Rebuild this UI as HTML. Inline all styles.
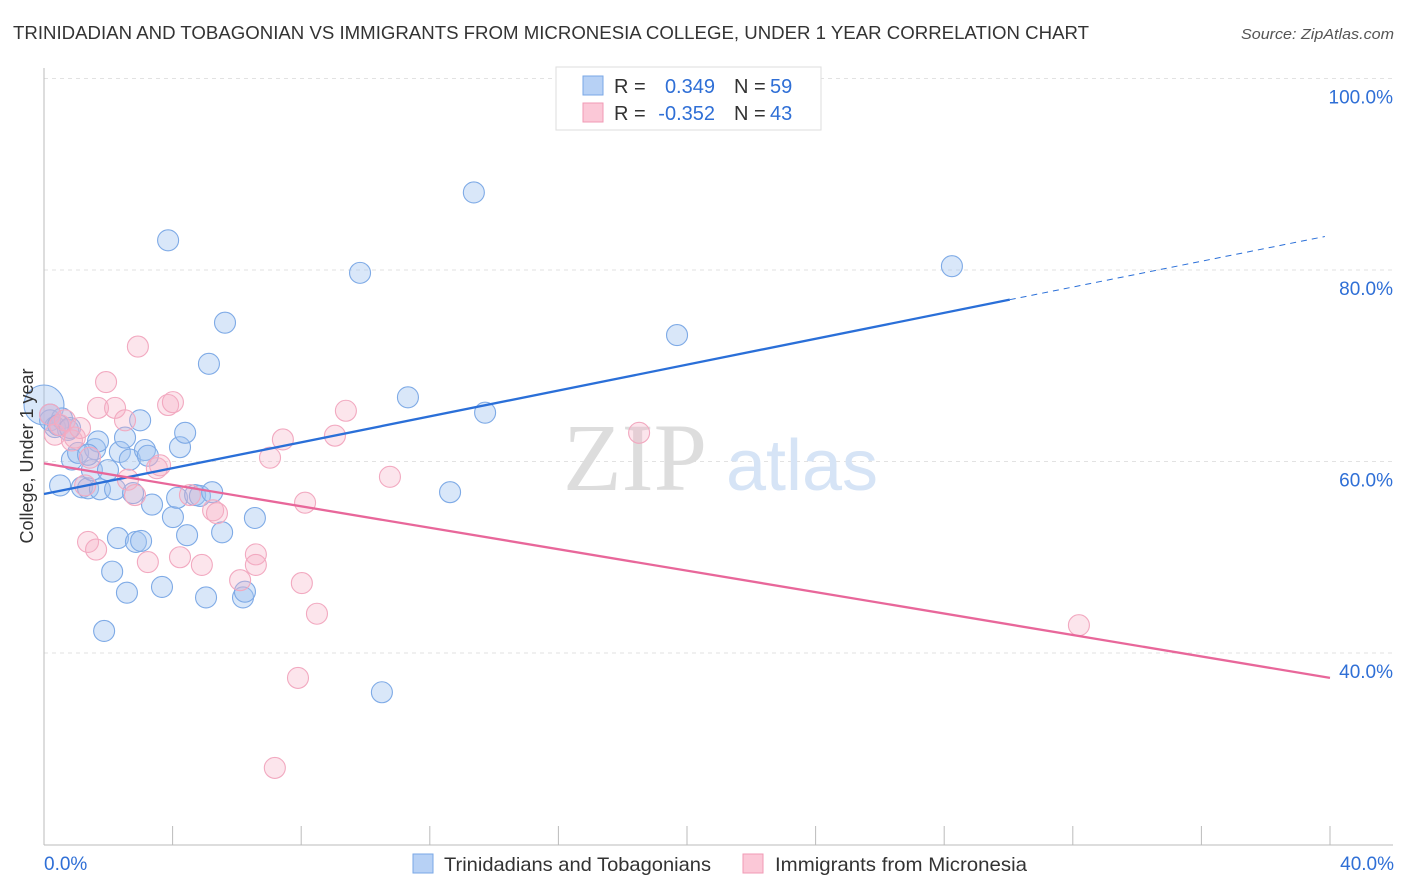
<!DOCTYPE html>
<html><head><meta charset="utf-8">
<style>
body{margin:0;background:#fff;font-family:"Liberation Sans",sans-serif;}
svg{display:block}
</style></head>
<body>
<svg id="chart" width="1406" height="892" xmlns="http://www.w3.org/2000/svg">
<text x="13" y="39" font-size="18" fill="#333" textLength="1076" lengthAdjust="spacingAndGlyphs">TRINIDADIAN AND TOBAGONIAN VS IMMIGRANTS FROM MICRONESIA COLLEGE, UNDER 1 YEAR CORRELATION CHART</text>
<text x="1241" y="39" font-size="15" fill="#555" font-style="italic" textLength="153" lengthAdjust="spacingAndGlyphs">Source: ZipAtlas.com</text>
<g id="grid"></g>
<g>
<text x="635" y="490" font-size="96" font-family="Liberation Serif,serif" fill="#ddd" text-anchor="middle">ZIP</text>
<text x="802" y="490" font-size="72" fill="#d6e4f6" text-anchor="middle">atlas</text>
</g>
<g id="pts"></g>
<g id="lines"></g>
<text x="33" y="456" font-size="18" fill="#333" text-anchor="middle" transform="rotate(-90 33 456)">College, Under 1 year</text>
<g>
<rect x="556" y="67" width="265" height="63" fill="#fff" stroke="#ddd"/>
<rect x="583" y="76" width="20" height="19" fill="#b7d1f5" stroke="#7aa7e6"/>
<rect x="583" y="103" width="20" height="19" fill="#fbc8d7" stroke="#f09ab4"/>
<text x="614" y="93" font-size="20" fill="#333">R =</text>
<text x="715" y="93" font-size="20" fill="#2f6fd6" text-anchor="end">0.349</text>
<text x="734" y="93" font-size="20" fill="#333">N =</text>
<text x="770" y="93" font-size="20" fill="#2f6fd6">59</text>
<text x="614" y="120" font-size="20" fill="#333">R =</text>
<text x="715" y="120" font-size="20" fill="#2f6fd6" text-anchor="end">-0.352</text>
<text x="734" y="120" font-size="20" fill="#333">N =</text>
<text x="770" y="120" font-size="20" fill="#2f6fd6">43</text>
</g>
<g>
<rect x="413" y="854" width="20" height="19" fill="#b7d1f5" stroke="#7aa7e6"/>
<text x="444" y="871" font-size="19.5" fill="#333" textLength="267" lengthAdjust="spacingAndGlyphs">Trinidadians and Tobagonians</text>
<rect x="743" y="854" width="20" height="19" fill="#fbc8d7" stroke="#f09ab4"/>
<text x="775" y="871" font-size="19.5" fill="#333" textLength="252" lengthAdjust="spacingAndGlyphs">Immigrants from Micronesia</text>
</g>
</svg>
<script>
const yTicks=[100,80,60,40];
const yTickLabels=["100.0%","80.0%","60.0%","40.0%"];
const xTickLabels=["0.0%","40.0%"];
const blueX=[0,0.19,0.56,0.34,0.75,0.5,0.87,1.06,1.18,1.37,1.49,1.59,1.68,1.74,1.99,2.21,2.36,2.52,2.67,2.77,2.99,3.14,3.23,3.36,2.12,2.3,2.58,2.86,3.02,3.67,3.86,4.01,4.14,4.23,4.39,4.45,4.7,4.85,5.04,5.13,5.23,5.54,5.63,6.19,6.25,6.56,1.87,9.83,10.51,11.32,12.63,13.37,13.72,19.69,28.24,0.19,0.44,0.81,1.37];
const blueY=[65.9,64.3,64.5,63.6,63.3,57.5,60.2,60.9,57.3,57.2,59.1,61.3,62.1,57.1,59.1,57.1,61.0,62.5,60.2,56.7,64.3,61.2,60.6,55.5,48.5,52.0,46.3,51.6,51.7,46.9,83.1,54.2,56.2,61.5,63.0,52.3,56.5,56.4,45.8,70.2,56.8,52.6,74.5,45.8,46.4,54.1,42.3,79.7,35.9,66.7,56.8,88.1,65.1,73.2,80.4,64.9,63.8,63.5,60.7];
const pinkX=[0.19,0.34,0.5,0.65,0.87,0.96,1.12,1.28,1.43,1.37,1.62,1.68,1.93,2.21,2.52,2.61,2.83,2.92,3.23,3.51,3.61,3.86,4.01,4.23,4.54,4.91,5.26,5.38,6.1,6.59,6.59,7.03,7.43,7.9,7.18,8.02,8.12,8.49,9.05,9.39,10.76,18.51,32.19];
const pinkY=[64.9,62.8,63.8,64.3,62.2,62.5,63.5,57.5,60.4,51.6,50.8,65.6,68.3,65.6,64.3,58.1,56.5,72.0,49.5,59.3,59.6,65.9,66.2,50.0,56.5,49.2,54.9,54.6,47.6,50.3,49.2,60.4,62.3,37.4,28.0,47.3,55.7,44.1,62.7,65.3,58.4,63.0,42.9];
const blueTrend=[56.6,76.9,83.5];
const blueTrendX=[0,30.04,39.84];
const pinkTrend=[59.8,37.4];
const pinkTrendX=[0,40];

const NS="http://www.w3.org/2000/svg";
const sx=v=>44+v/40*1286;
const sy=v=>78.5+(100-v)/20*191.5;
function mk(tag,attrs,parent){const e=document.createElementNS(NS,tag);for(const k in attrs)e.setAttribute(k,attrs[k]);parent.appendChild(e);return e;}
const grid=document.getElementById('grid');
yTicks.forEach((t,i)=>{
  const l=mk('line',{x1:44,x2:1393,y1:sy(t),y2:sy(t),stroke:'#e2e2e2','stroke-dasharray':'4,4'},grid);
  
  
  const tx=mk('text',{x:1393,y:sy(t)+25,'font-size':19,fill:'#2f6fd6','text-anchor':'end'},grid);
  tx.textContent=yTickLabels[i];
  
  
});
const ax=mk('line',{x1:44,x2:44,y1:68,y2:845,stroke:'#bbb'},grid);


const bx=mk('line',{x1:44,x2:1393,y1:845,y2:845,stroke:'#bbb'},grid);


for(let i=0;i<=10;i++){
  const t=mk('line',{x1:sx(i*4),x2:sx(i*4),y1:826,y2:845,stroke:'#bbb'},grid);
  
  
}
[[0,'start',44],[40,'end',1394]].forEach((d,i)=>{
  const t=mk('text',{x:d[2],y:870,'font-size':19,fill:'#2f6fd6','text-anchor':d[1]},grid);
  t.textContent=xTickLabels[i];
  
  
});
const pts=document.getElementById('pts');
blueX.forEach((x,i)=>{
  const c=mk('circle',{cx:sx(x),cy:sy(blueY[i]),r:i===0?20:10.5,fill:'rgba(160,195,240,0.4)',stroke:'#7eaae6','stroke-width':1.1},pts);
  
  
});
pinkX.forEach((x,i)=>{
  const c=mk('circle',{cx:sx(x),cy:sy(pinkY[i]),r:10.5,fill:'rgba(246,175,198,0.33)',stroke:'#f2a9c0','stroke-width':1.1},pts);
  
  
});
const lines=document.getElementById('lines');
const b1=mk('line',{x1:sx(blueTrendX[0]),y1:sy(blueTrend[0]),x2:sx(blueTrendX[1]),y2:sy(blueTrend[1]),stroke:'#2a6fd8','stroke-width':2.3},lines);


const b2=mk('line',{x1:sx(blueTrendX[1]),y1:sy(blueTrend[1]),x2:sx(blueTrendX[2]),y2:sy(blueTrend[2]),stroke:'#2a6fd8','stroke-width':1,'stroke-dasharray':'6,5'},lines);


const p1=mk('line',{x1:sx(pinkTrendX[0]),y1:sy(pinkTrend[0]),x2:sx(pinkTrendX[1]),y2:sy(pinkTrend[1]),stroke:'#e8679a','stroke-width':2.3},lines);


</script>
</body></html>
